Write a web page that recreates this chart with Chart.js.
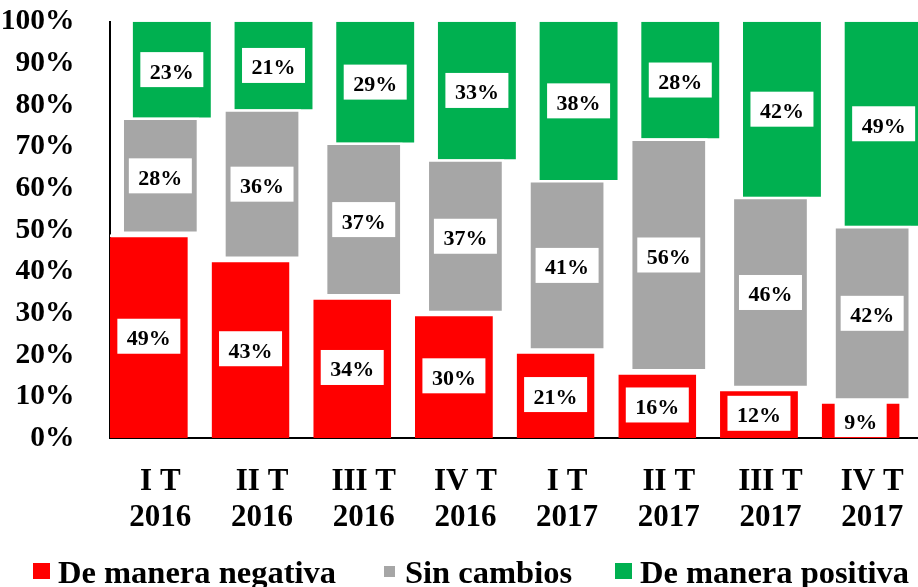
<!DOCTYPE html>
<html>
<head>
<meta charset="utf-8">
<script src="https://cdn.jsdelivr.net/npm/chart.js@4/dist/chart.umd.min.js"></script>
<style>
  html, body { margin: 0; padding: 0; background: #fff; overflow: hidden; }
  #wrap { position: relative; width: 918px; height: 587px; overflow: hidden; }
  #chart { position: absolute; left: 0; top: 0; }
  .sw { position: absolute; }
  .lt { position: absolute; top: 556px; font: bold 32.5px 'Liberation Serif', 'Times New Roman', serif; line-height: 1; white-space: nowrap; color: #000; }
</style>
</head>
<body>
<div id="wrap">
  <canvas id="chart" width="930" height="587"></canvas>
  <div class="sw" style="left:33px;top:563px;width:17px;height:16px;background:#FF0000"></div>
  <div class="lt" style="left:58px">De manera negativa</div>
  <div class="sw" style="left:384px;top:566px;width:11px;height:11px;background:#A6A6A6"></div>
  <div class="lt" style="left:405px">Sin cambios</div>
  <div class="sw" style="left:615px;top:563px;width:17px;height:16px;background:#00B050"></div>
  <div class="lt" style="left:640px">De manera positiva</div>
</div>
<script>
var quarters = ['I T', 'II T', 'III T', 'IV T', 'I T', 'II T', 'III T', 'IV T'];
var years = ['2016', '2016', '2016', '2016', '2017', '2017', '2017', '2017'];
var negativa = [49, 43, 34, 30, 21, 16, 12, 9];
var sinCambios = [28, 36, 37, 37, 41, 56, 46, 42];
var positiva = [23, 21, 29, 33, 38, 28, 42, 49];
var yTicks = [0, 10, 20, 30, 40, 50, 60, 70, 80, 90, 100];

var serif = "'Liberation Serif', 'Times New Roman', serif";

var labels = quarters.map(function (q, i) { return [q, years[i]]; });
// floating segments, each one starts where the previous one ends
var negRanges = negativa.map(function (v) { return [0, v]; });
var sinRanges = sinCambios.map(function (v, i) { return [negativa[i], negativa[i] + v]; });
var posRanges = positiva.map(function (v, i) { return [negativa[i] + sinCambios[i], negativa[i] + sinCambios[i] + v]; });
var rawValues = [negativa, sinCambios, positiva];

var boxLabels = {
    id: 'boxLabels',
    afterDatasetsDraw: function (chart) {
        var ctx = chart.ctx;
        ctx.save();
        ctx.font = 'bold 22px ' + serif;
        ctx.textAlign = 'center';
        ctx.textBaseline = 'alphabetic';
        chart.data.datasets.forEach(function (ds, di) {
            var meta = chart.getDatasetMeta(di);
            meta.data.forEach(function (bar, i) {
                var txt = rawValues[di][i] + '%';
                var cy = (bar.y + bar.base) / 2;
                var w = ctx.measureText(txt).width + 19;
                var h = 35;
                ctx.fillStyle = '#fff';
                ctx.fillRect(bar.x - w / 2, cy - h / 2, w, h);
                ctx.fillStyle = '#000';
                ctx.fillText(txt, bar.x, cy + 9);
            });
        });
        ctx.restore();
    }
};

new Chart(document.getElementById('chart'), {
    type: 'bar',
    data: {
        labels: labels,
        datasets: [{
            label: 'De manera negativa',
            data: negRanges,
            backgroundColor: '#FF0000',
            borderColor: '#FFFFFF',
            borderWidth: { top: 3, left: 0, right: 0, bottom: 0 },
            borderSkipped: 'bottom'
        }, {
            label: 'Sin cambios',
            data: sinRanges,
            backgroundColor: '#A6A6A6',
            borderColor: '#FFFFFF',
            borderWidth: 2.6,
            borderSkipped: false
        }, {
            label: 'De manera positiva',
            data: posRanges,
            backgroundColor: '#00B050',
            borderWidth: 0
        }]
    },
    options: {
        responsive: false,
        animation: false,
        categoryPercentage: 0.339,
        barPercentage: 6.78,
        layout: { padding: { top: 0, right: 7, left: 0, bottom: 0 } },
        plugins: {
            legend: { display: false },
            tooltip: { enabled: false }
        },
        scales: {
            x: {
                grid: { display: false },
                border: { display: true, color: '#000', width: 2 },
                ticks: {
                    color: '#000',
                    font: { family: serif, size: 31, weight: 'bold', lineHeight: 1.18 },
                    padding: 17,
                    maxRotation: 0,
                    autoSkip: false
                },
                afterFit: function (scale) { scale.height = 148.7; }
            },
            y: {
                min: 0,
                max: 100,
                grid: { display: false },
                border: { display: true, color: '#000', width: 2 },
                afterBuildTicks: function (scale) {
                    scale.ticks = yTicks.map(function (v) { return { value: v }; });
                },
                ticks: {
                    color: '#000',
                    font: { family: serif, size: 29.5, weight: 'bold' },
                    padding: 27,
                    callback: function (v) { return v + '%'; }
                },
                afterFit: function (scale) {
                    scale.width = 109.5;
                    // top of plot sits at 100%, keep it there
                    scale.paddingTop = 21.7;
                    scale.paddingBottom = 0;
                }
            }
        }
    },
    plugins: [boxLabels]
});
</script>
</body>
</html>
